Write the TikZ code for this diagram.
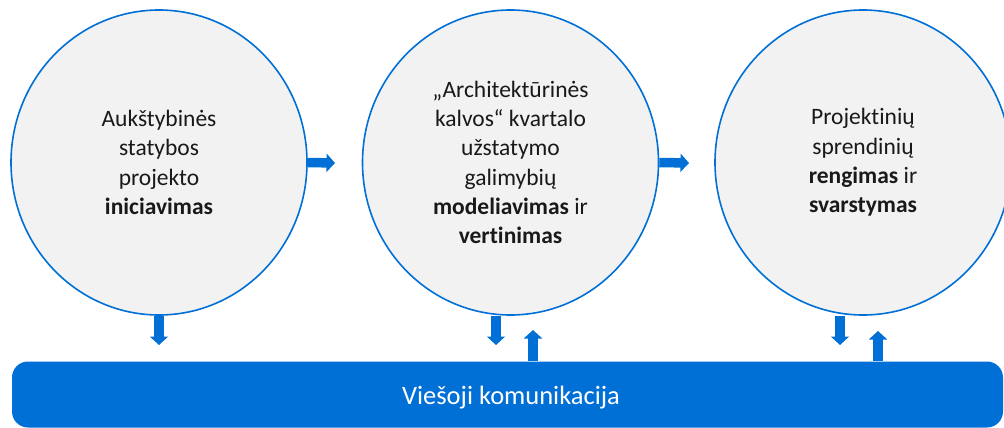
\documentclass[tikz,border=0pt]{standalone}
\usepackage{fontspec}
\setmainfont{Carlito}[Ligatures=NoCommon]
\usetikzlibrary{arrows.meta,shapes.geometric}
\definecolor{mblue}{RGB}{0,112,214}
\definecolor{cfill}{RGB}{242,242,242}
\tikzset{
  x=1pt,y=-1pt,
  stage/.style={ellipse,draw=mblue,line width=1.6pt,fill=cfill,
    minimum width=296pt,minimum height=305pt,inner sep=0pt,
    align=center,font=\fontsize{23.5}{29.3}\selectfont,text=black!90},
  arr/.style={draw=mblue,line width=9.5pt,
    -{Triangle[length=8.5pt,width=18pt]}},
  barbox/.style={draw=none,fill=mblue,rounded corners=16pt,
    minimum width=991pt,minimum height=66pt,inner sep=0pt},
  bartext/.style={text=white,font=\fontsize{26.5}{30}\selectfont,inner sep=0pt}
}
\begin{document}
\begin{tikzpicture}
\useasboundingbox (0,0) rectangle (1004,428);
\begin{scope}
\clip (0,0) rectangle (1004,428);
\node[stage] (c1) at (159,162.5) {Aukštybinės\\statybos\\projekto\\\textbf{iniciavimas}};
\node[stage] (c2) at (510.5,162.5) {„Architektūrinės\\kalvos“ kvartalo\\užstatymo\\galimybių\\\textbf{modeliavimas} ir\\\textbf{vertinimas}};
\node[stage] (c3) at (863,162.5) {Projektinių\\sprendinių\\\textbf{rengimas} ir\\\textbf{svarstymas}};
\node[barbox] (bar) at (507.5,394.5) {};
\node[bartext] (bartxt) at (511,397.5) {Viešoji komunikacija};
\end{scope}
\coordinate (r1) at (335,163);
\coordinate (r2) at (689,163);
\coordinate (d1) at (159,345);
\coordinate (d2) at (496,345);
\coordinate (u2) at (533,330);
\coordinate (d3) at (840,345);
\coordinate (u3) at (878,331);
\draw[arr] (c1.east) -- (r1);
\draw[arr] (c2.east) -- (r2);
\draw[arr] (c1.south) -- (d1);
\draw[arr] (c2.south -| d2) -- (d2);
\draw[arr] (bar.north -| u2) -- (u2);
\draw[arr] (c3.south -| d3) -- (d3);
\draw[arr] (bar.north -| u3) -- (u3);
\end{tikzpicture}
\end{document}
